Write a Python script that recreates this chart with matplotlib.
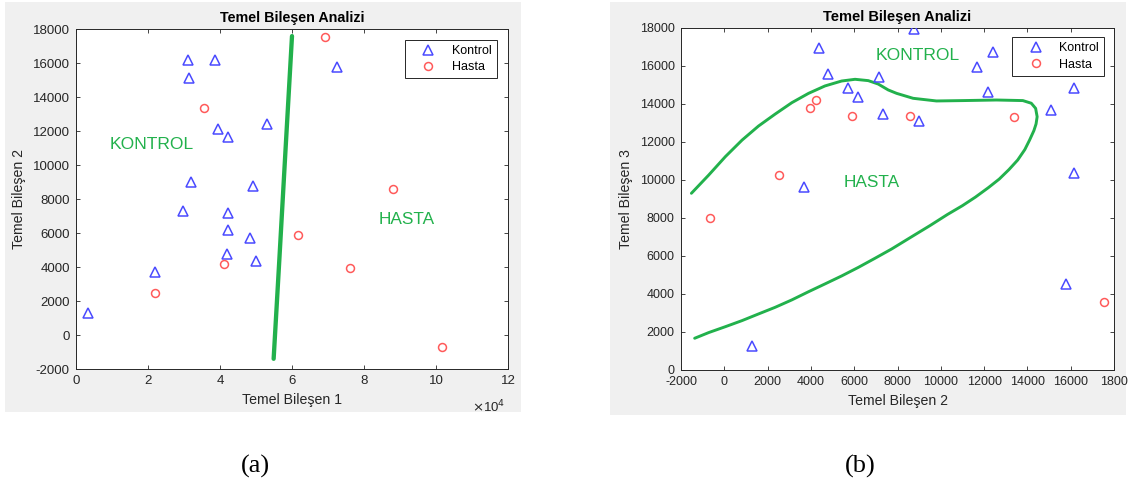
import matplotlib
matplotlib.use('Agg')
import matplotlib.pyplot as plt
from matplotlib.patches import Rectangle
from matplotlib.ticker import FuncFormatter, MultipleLocator, FixedLocator, FixedFormatter

# ---------------- data: panel (a) ----------------
a_kontrol_x = [3200, 21900, 29700, 31900, 31000, 38500, 31300, 39500, 42200, 53000,
               49100, 42100, 42200, 48400, 41900, 50000, 72600]
a_kontrol_y = [1280, 3700, 7300, 9000, 16200, 16200, 15150, 12150, 11680, 12430,
               8800, 7200, 6200, 5730, 4790, 4380, 15800]
a_hasta_x = [69100, 35600, 88100, 61700, 76200, 41000, 22000, 101600]
a_hasta_y = [17530, 13360, 8580, 5870, 3950, 4200, 2500, -690]
a_border_x = [54900, 56500, 58200, 60000]
a_border_y = [-1400, 4500, 10900, 17600]

# ---------------- data: panel (b) ----------------
b_kontrol_x = [4370, 8750, 4780, 7150, 5710, 6190, 7320, 9000, 11660, 12390,
               12160, 15090, 16140, 16150, 15760, 3700, 1290]
b_kontrol_y = [16930, 17950, 15590, 15410, 14850, 14360, 13490, 13130, 15970, 16760,
               14620, 13700, 14830, 10370, 4550, 9610, 1260]
b_hasta_x = [-660, 2520, 3950, 4230, 5880, 8600, 13370, 17530]
b_hasta_y = [8000, 10280, 13780, 14220, 13380, 13380, 13310, 3590]
b_border_x = [-1520, -720, 50, 820, 1580, 2350, 3120, 3890, 4650, 5420, 6040, 6650,
              7110, 7570, 7960, 8720, 9800, 11030, 12570, 13790, 14180, 14380, 14450,
              14400, 14300, 14100, 13880, 13550, 13150, 12700, 12200, 11600, 11000,
              10300, 9500, 8720, 7730, 6960, 6190, 5420, 4650, 3890, 3120, 2350, 1580,
              820, 50, -720, -1370]
b_border_y = [9300, 10260, 11230, 12100, 12840, 13470, 14070, 14560, 14950, 15210,
              15300, 15230, 15050, 14740, 14560, 14300, 14160, 14180, 14210, 14180,
              14040, 13770, 13330, 12950, 12600, 12100, 11600, 11050, 10550, 10050,
              9600, 9100, 8650, 8180, 7600, 7060, 6370, 5880, 5400, 4950, 4530, 4120,
              3690, 3300, 2950, 2600, 2280, 1970, 1670]
b_xtick_values = [-2000, 0, 2000, 4000, 6000, 8000, 10000, 12000, 14000, 16000, 18000]
b_xtick_labels = ['-2000', '0', '2000', '4000', '6000', '8000', '10000', '12000',
                  '14000', '16000', '1800']

title_txt = 'Temel Bileşen Analizi'
legend_labels = ['Kontrol', 'Hasta']

GREEN = '#22b14c'
BLUE = '#4a4aff'
RED = '#ff5a5a'
DARK = '#262626'
GRAY_BG = '#f0f0f0'

plt.rcParams['font.family'] = ['Liberation Sans', 'DejaVu Sans']
plt.rcParams['axes.unicode_minus'] = False

W, H = 1129, 484
fig = plt.figure(figsize=(W / 100, H / 100), dpi=100, facecolor='white')

# gray MATLAB figure backgrounds
fig.patches.append(Rectangle((5 / W, 1 - 412 / H), 516 / W, 410 / H,
                             transform=fig.transFigure, facecolor=GRAY_BG,
                             edgecolor='none', zorder=-10))
fig.patches.append(Rectangle((610 / W, 1 - 415 / H), 516 / W, 413 / H,
                             transform=fig.transFigure, facecolor=GRAY_BG,
                             edgecolor='none', zorder=-10))


def make_axes(px_left, px_right, px_top, px_bottom):
    return fig.add_axes([px_left / W, 1 - px_bottom / H,
                         (px_right - px_left) / W, (px_bottom - px_top) / H])


def style(ax, fs):
    ax.set_facecolor('white')
    for s in ax.spines.values():
        s.set_color(DARK)
        s.set_linewidth(0.7)
    ax.tick_params(direction='in', length=3, width=0.6, colors=DARK,
                   labelsize=fs, pad=4.5, top=True, right=True)


# ---------------- panel (a) ----------------
axa = make_axes(76, 508, 29.3, 369)
style(axa, 9.5)
axa.plot(a_border_x, a_border_y, color=GREEN, lw=3.1, solid_capstyle='round', zorder=2)
axa.plot(a_kontrol_x, a_kontrol_y, ls='none', marker='^', ms=6.5, mfc='none',
         mec=BLUE, mew=1.1, label=legend_labels[0], zorder=3)
axa.plot(a_hasta_x, a_hasta_y, ls='none', marker='o', ms=5.7, mfc='none',
         mec=RED, mew=1.1, label=legend_labels[1], zorder=3)
axa.set_xlim(0, 120000)
axa.set_ylim(-2000, 18000)
axa.xaxis.set_major_locator(MultipleLocator(20000))
axa.yaxis.set_major_locator(MultipleLocator(2000))
axa.xaxis.set_major_formatter(FuncFormatter(lambda v, p: '%g' % (v / 1e4)))
axa.set_title(title_txt, fontsize=10.3, fontweight='bold', color='black', pad=5)
axa.set_xlabel('Temel Bileşen 1', fontsize=10.2, color=DARK, labelpad=4)
axa.set_ylabel('Temel Bileşen 2', fontsize=10.2, color=DARK, labelpad=5)
axa.text(0.993, -0.112, r'$\times$10$^{4}$', transform=axa.transAxes, ha='right',
         va='center', fontsize=9.5, color=DARK)
axa.text(9250, 11190, 'KONTROL', color=GREEN, fontsize=12.6, va='center', ha='left')
axa.text(84170, 6830, 'HASTA', color=GREEN, fontsize=12.4, va='center', ha='left')
lega = axa.legend(loc='upper right', bbox_to_anchor=(0.9745, 0.9685), borderaxespad=0,
                  fontsize=9, numpoints=1, handlelength=3.0, handletextpad=0.4,
                  labelspacing=0.35, borderpad=0.4, fancybox=False, framealpha=1)
lega.get_frame().set_edgecolor(DARK)
lega.get_frame().set_linewidth(0.7)

# ---------------- panel (b) ----------------
axb = make_axes(681, 1114, 28, 370)
style(axb, 9)
axb.plot(b_border_x, b_border_y, color=GREEN, lw=2.1, solid_capstyle='round',
         solid_joinstyle='round', zorder=2)
axb.plot(b_kontrol_x, b_kontrol_y, ls='none', marker='^', ms=6.5, mfc='none',
         mec=BLUE, mew=1.1, label=legend_labels[0], zorder=3)
axb.plot(b_hasta_x, b_hasta_y, ls='none', marker='o', ms=5.7, mfc='none',
         mec=RED, mew=1.1, label=legend_labels[1], zorder=3)
axb.set_xlim(-2000, 18000)
axb.set_ylim(0, 18000)
axb.xaxis.set_major_locator(FixedLocator(b_xtick_values))
axb.xaxis.set_major_formatter(FixedFormatter(b_xtick_labels))
axb.yaxis.set_major_locator(MultipleLocator(2000))
axb.set_title(title_txt, fontsize=10.5, fontweight='bold', color='black', pad=5)
axb.set_xlabel('Temel Bileşen 2', fontsize=10.2, color=DARK, labelpad=4)
axb.set_ylabel('Temel Bileşen 3', fontsize=10.2, color=DARK, labelpad=5)
axb.text(7000, 16530, 'KONTROL', color=GREEN, fontsize=12.6, va='center', ha='left')
axb.text(5500, 9880, 'HASTA', color=GREEN, fontsize=12.4, va='center', ha='left')
legb = axb.legend(loc='upper right', bbox_to_anchor=(0.977, 0.973), borderaxespad=0,
                  fontsize=9, numpoints=1, handlelength=3.0, handletextpad=0.4,
                  labelspacing=0.35, borderpad=0.4, fancybox=False, framealpha=1)
legb.get_frame().set_edgecolor(DARK)
legb.get_frame().set_linewidth(0.7)

# captions
fig.text(255 / W, 1 - 466 / H, '(a)', fontsize=19, ha='center', va='center',
         family=['Liberation Serif', 'DejaVu Serif'], color='black')
fig.text(860 / W, 1 - 466 / H, '(b)', fontsize=19, ha='center', va='center',
         family=['Liberation Serif', 'DejaVu Serif'], color='black')

fig.savefig('out.png', dpi=100, facecolor='white')
